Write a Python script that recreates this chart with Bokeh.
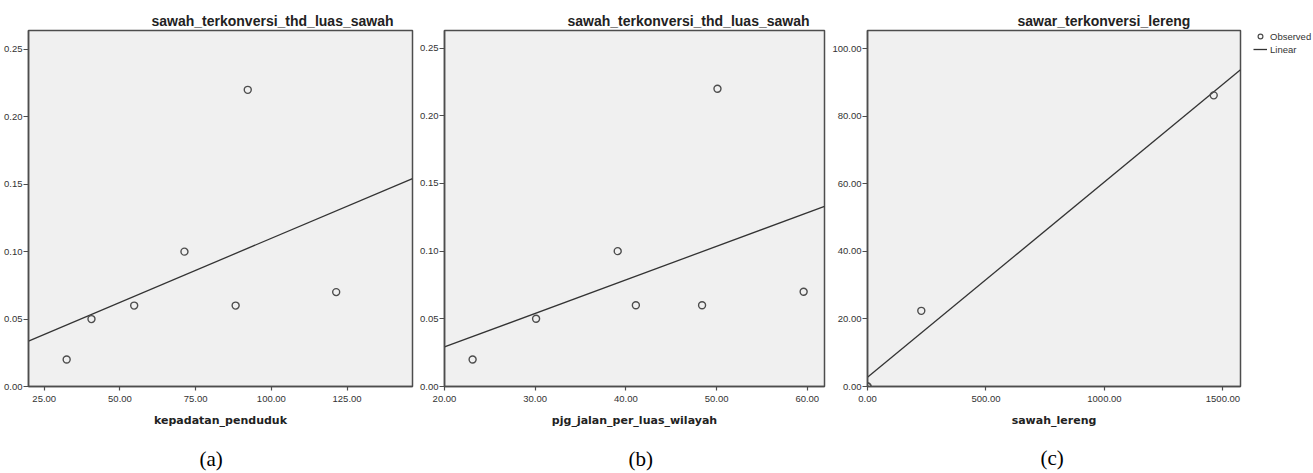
from bokeh.plotting import figure
from bokeh.layouts import row
from bokeh.models import FixedTicker, NumeralTickFormatter, Range1d, Title, Legend, LegendItem
from bokeh.embed import file_html
from bokeh.resources import INLINE
import numpy as np

# ---- data ----
a_x = [32.4, 40.6, 54.7, 71.3, 88.2, 92.2, 121.4]
a_y = [0.02, 0.05, 0.06, 0.10, 0.06, 0.22, 0.07]
b_x = [23.1, 30.1, 39.1, 41.1, 48.4, 50.1, 59.6]
b_y = [0.02, 0.05, 0.10, 0.06, 0.06, 0.22, 0.07]
c_x = [0.0, 0.0, 227.0, 1461.0]
c_y = [0.0, 0.0, 22.4, 86.2]

a_xticks = [25, 50, 75, 100, 125]
a_yticks = [0.0, 0.05, 0.10, 0.15, 0.20, 0.25]
b_xticks = [20, 30, 40, 50, 60]
b_yticks = [0.0, 0.05, 0.10, 0.15, 0.20, 0.25]
c_xticks = [0, 500, 1000, 1500]
c_yticks = [0, 20, 40, 60, 80, 100]

legend_labels = ["Observed", "Linear"]

FRAME = "#4d4d4d"
INK = "#333333"
H = 472


def fit_line(xs, ys, xr):
    k, b0 = np.polyfit(xs, ys, 1)
    return [xr[0], xr[1]], [b0 + k * xr[0], b0 + k * xr[1]]


def panel(xs, ys, title, xlabel, caption, xr, yr, xticks, yticks, width,
          bl, br, bt, bb, t_off, c_off, gap):
    p = figure(width=width, height=H, x_range=Range1d(*xr), y_range=Range1d(*yr),
               output_backend="svg", toolbar_location=None,
               min_border_left=bl, min_border_right=br, min_border_top=bt, min_border_bottom=bb)
    p.title = Title(text=title, align="left", offset=t_off, standoff=4,
                    text_font="Liberation Sans", text_font_size="14px",
                    text_font_style="bold", text_color="#222222")
    p.background_fill_color = "#f0f0f0"
    p.border_fill_color = "white"
    p.outline_line_color = FRAME
    p.outline_line_width = 1.5
    p.xgrid.visible = False
    p.ygrid.visible = False
    p.xaxis.ticker = FixedTicker(ticks=xticks)
    p.yaxis.ticker = FixedTicker(ticks=yticks)
    p.xaxis.formatter = NumeralTickFormatter(format="0.00")
    p.yaxis.formatter = NumeralTickFormatter(format="0.00")
    p.axis.major_label_text_font = "Liberation Sans"
    p.axis.major_label_text_font_size = "9.5px"
    p.axis.major_label_text_color = INK
    p.axis.axis_line_color = FRAME
    p.axis.axis_line_width = 1.5
    p.axis.major_tick_line_color = FRAME
    p.axis.major_tick_line_width = 1.2
    p.axis.major_tick_out = 5
    p.axis.major_tick_in = 0
    p.axis.minor_tick_out = 0
    p.axis.minor_tick_in = 0
    p.yaxis.major_label_standoff = 1
    p.xaxis.major_tick_out = 4
    p.xaxis.major_label_standoff = 5
    p.xaxis.axis_label = xlabel
    p.xaxis.axis_label_text_font = "DejaVu Sans"
    p.xaxis.axis_label_text_font_size = "11px"
    p.xaxis.axis_label_text_font_style = "bold"
    p.xaxis.axis_label_text_color = "#222222"
    p.xaxis.axis_label_standoff = 9

    lx, ly = fit_line(xs, ys, xr)
    p.line(lx, ly, line_color=INK, line_width=1.3)
    p.scatter(xs, ys, marker="circle", size=7, fill_color=None,
              line_color=FRAME, line_width=1.4)

    # invisible spacer between the axis label and the caption
    spacer = Title(text=".", text_font_size="4px", text_color="white", standoff=gap)
    p.add_layout(spacer, "below")
    cap = Title(text=caption, align="left", offset=c_off, standoff=0,
                text_font="Liberation Serif", text_font_size="21px",
                text_font_style="normal", text_color="black")
    p.add_layout(cap, "below")
    return p


c_xr = (0.0, 1574.0)
pa = panel(a_x, a_y, "sawah_terkonversi_thd_luas_sawah", "kepadatan_penduduk", "(a)",
           (19.8, 146.6), (0.0, 0.264), a_xticks, a_yticks, 417,
           28, 5, 28, 86, 123, 171, 10)
pb = panel(b_x, b_y, "sawah_terkonversi_thd_luas_sawah", "pjg_jalan_per_luas_wilayah", "(b)",
           (20.0, 61.9), (0.0, 0.263), b_xticks, b_yticks, 412,
           26, 5, 30, 86, 123, 184, 10)
pc = panel(c_x, c_y, "sawar_terkonversi_lereng", "sawah_lereng", "(c)",
           c_xr, (0.0, 105.4), c_xticks, c_yticks, 424,
           36, 13, 28, 82, 150, 173, 9)

# legend in its own narrow figure to the right of panel (c);
# its sample renderers reuse panel (c) data, kept outside this figure's view
pl = figure(width=60, height=H, x_range=Range1d(-3, -2), y_range=Range1d(-3, -2),
            x_axis_location=None, y_axis_location=None,
            output_backend="svg", toolbar_location=None,
            min_border_left=0, min_border_right=0, min_border_top=10, min_border_bottom=0)
pl.grid.visible = False
pl.outline_line_color = None
pl.background_fill_color = "white"
pl.border_fill_color = "white"
r_obs = pl.scatter(c_x, c_y, marker="circle", size=6, fill_color=None,
                   line_color=FRAME, line_width=1.2)
clx, cly = fit_line(c_x, c_y, c_xr)
r_lin = pl.line(clx, cly, line_color=INK, line_width=1.3)
lg = Legend(items=[LegendItem(label=legend_labels[0], renderers=[r_obs]),
                   LegendItem(label=legend_labels[1], renderers=[r_lin])],
            location="top_left", label_text_font="Liberation Sans",
            label_text_font_size="9.5px", label_text_color=INK,
            glyph_width=14, glyph_height=12, label_height=12,
            spacing=1, padding=0, margin=0, label_standoff=3,
            border_line_alpha=0, background_fill_alpha=0)
pl.add_layout(lg, "center")

layout = row(pa, pb, pc, pl, spacing=0)
open("out.html", "w").write(file_html(layout, INLINE))
